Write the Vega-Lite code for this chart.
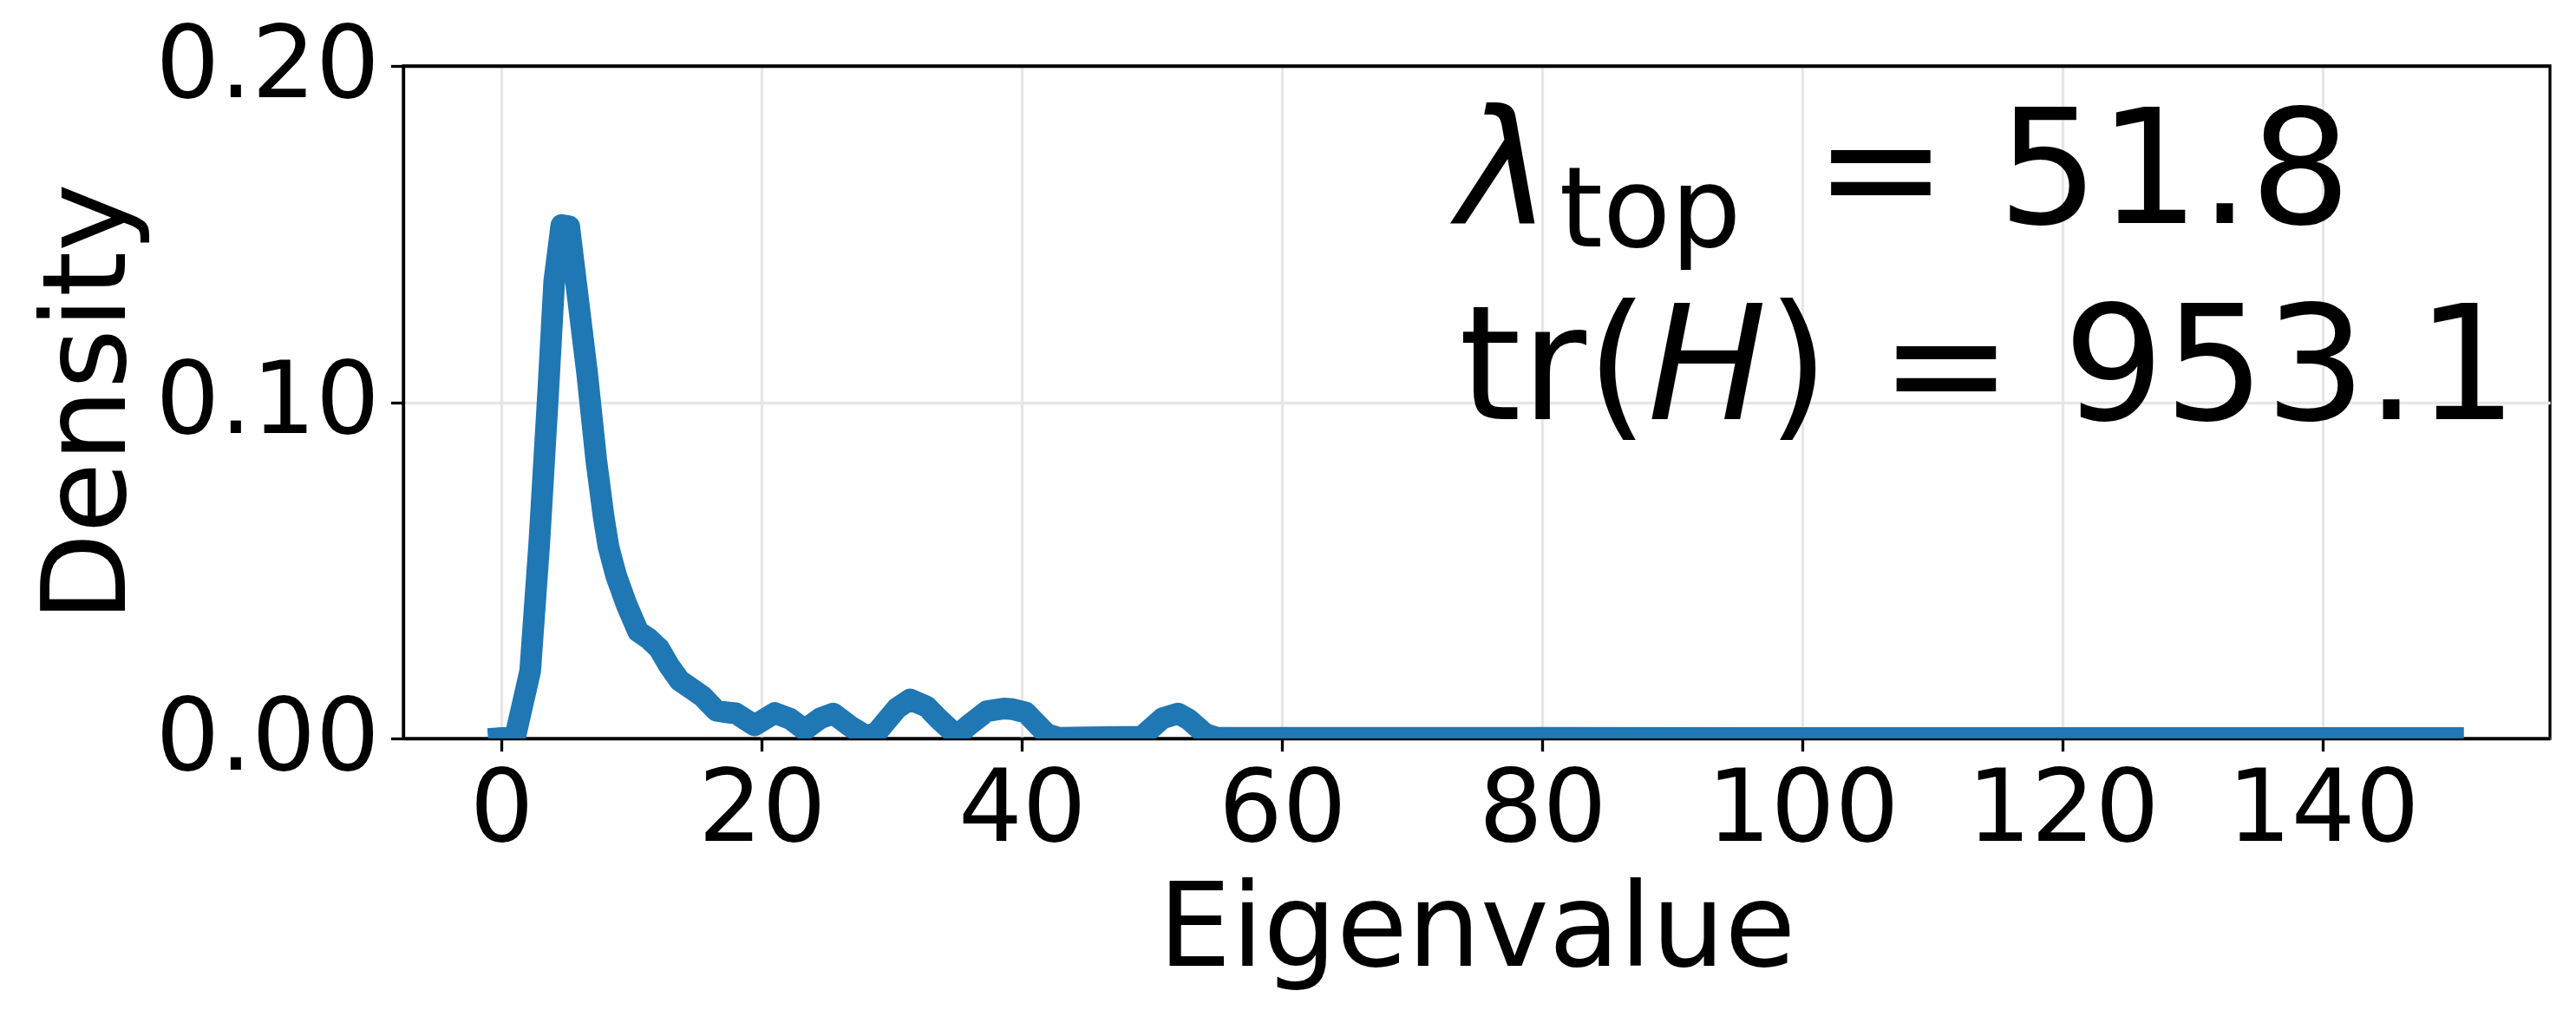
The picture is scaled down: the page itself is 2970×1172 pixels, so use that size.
{
  "$schema": "https://vega.github.io/schema/vega-lite/v6.json",
  "width": 2475,
  "height": 775,
  "autosize": {"type": "none"},
  "padding": {"left": 465, "top": 76, "right": 30, "bottom": 321},
  "background": "white",
  "config": {
    "font": "DejaVu Sans",
    "view": {"stroke": "black", "strokeWidth": 3.3},
    "axis": {
      "labelFont": "DejaVu Sans",
      "titleFont": "DejaVu Sans",
      "labelColor": "black",
      "titleColor": "black",
      "titleFontWeight": "normal",
      "labelFontSize": 116,
      "titleFontSize": 133,
      "labelLimit": 2000,
      "titleLimit": 3000,
      "tickColor": "black",
      "tickWidth": 3.3,
      "tickSize": 14.6,
      "domainColor": "black",
      "domainWidth": 3.3,
      "grid": true,
      "gridWidth": 3.3,
      "labelFlush": false,
      "labelOverlap": false,
      "zindex": 1
    }
  },
  "datasets": {
    "curve": [
      {"x": -0.2, "y": 0.0001},
      {"x": 1.05, "y": 0.0005},
      {"x": 2.2, "y": 0.020},
      {"x": 2.9, "y": 0.058},
      {"x": 3.6, "y": 0.104},
      {"x": 4.05, "y": 0.136},
      {"x": 4.6, "y": 0.1527},
      {"x": 5.2, "y": 0.1523},
      {"x": 6.58, "y": 0.1086},
      {"x": 7.28, "y": 0.0828},
      {"x": 7.86, "y": 0.0656},
      {"x": 8.22, "y": 0.057},
      {"x": 8.81, "y": 0.0484},
      {"x": 9.61, "y": 0.0398},
      {"x": 10.5, "y": 0.0318},
      {"x": 11.3, "y": 0.0297},
      {"x": 12.1, "y": 0.0268},
      {"x": 12.9, "y": 0.0215},
      {"x": 13.7, "y": 0.0172},
      {"x": 14.6, "y": 0.0148},
      {"x": 15.45, "y": 0.0125},
      {"x": 16.5, "y": 0.0083},
      {"x": 17.2, "y": 0.0078},
      {"x": 18.0, "y": 0.0075},
      {"x": 19.45, "y": 0.0039},
      {"x": 21.0, "y": 0.0076},
      {"x": 22.2, "y": 0.0058},
      {"x": 23.3, "y": 0.0026},
      {"x": 24.5, "y": 0.0060},
      {"x": 25.5, "y": 0.0074},
      {"x": 26.8, "y": 0.0036},
      {"x": 28.0, "y": 0.0008},
      {"x": 28.8, "y": 0.0016},
      {"x": 30.4, "y": 0.0090},
      {"x": 31.4, "y": 0.0116},
      {"x": 32.7, "y": 0.0094},
      {"x": 33.6, "y": 0.0058},
      {"x": 35.0, "y": 0.0008},
      {"x": 35.9, "y": 0.0039},
      {"x": 37.3, "y": 0.0081},
      {"x": 38.6, "y": 0.0089},
      {"x": 39.3, "y": 0.0087},
      {"x": 40.3, "y": 0.0077},
      {"x": 41.9, "y": 0.0013},
      {"x": 42.8, "y": 0.0002},
      {"x": 49.2, "y": 0.0005},
      {"x": 50.8, "y": 0.0060},
      {"x": 52.0, "y": 0.0074},
      {"x": 52.8, "y": 0.0057},
      {"x": 54.1, "y": 0.0013},
      {"x": 55.0, "y": 0.0002},
      {"x": 150.0, "y": 0.0001}
    ]
  },
  "encoding": {
    "x": {
      "type": "quantitative",
      "scale": {"domain": [-7.55, 157.45], "nice": false, "zero": false},
      "axis": {"title": "Eigenvalue", "values": [0, 20, 40, 60, 80, 100, 120, 140], "labelPadding": 11, "titlePadding": 16, "gridColor": "#e6e6e6"}
    },
    "y": {
      "type": "quantitative",
      "scale": {"domain": [0, 0.2], "nice": false, "zero": false},
      "axis": {
        "title": "Density",
        "values": [0, 0.1, 0.2],
        "format": ".2f",
        "labelPadding": 13,
        "titlePadding": 94,
        "gridColor": {"condition": {"test": "datum.value >= 0.199", "value": "black"}, "value": "#e6e6e6"}
      }
    }
  },
  "layer": [
    {
      "data": {"name": "curve"},
      "mark": {"type": "line", "color": "#1f77b4", "strokeWidth": 25, "strokeJoin": "round", "strokeCap": "square", "clip": true},
      "encoding": {"x": {"field": "x"}, "y": {"field": "y"}}
    },
    {
      "data": {"values": [{"label": "λ"}]},
      "mark": {"type": "text", "font": "DejaVu Sans", "fontSize": 183, "fontStyle": "italic", "align": "left", "baseline": "alphabetic", "color": "black"},
      "encoding": {"x": {"datum": 73.45}, "y": {"datum": 0.15337}, "text": {"field": "label"}}
    },
    {
      "data": {"values": [{"label": "top"}]},
      "mark": {"type": "text", "font": "DejaVu Sans", "fontSize": 128, "align": "left", "baseline": "alphabetic", "color": "black"},
      "encoding": {"x": {"datum": 81.3}, "y": {"datum": 0.1463}, "text": {"field": "label"}}
    },
    {
      "data": {"values": [{"label": "= 51.8"}]},
      "mark": {"type": "text", "font": "DejaVu Sans", "fontSize": 183, "align": "left", "baseline": "alphabetic", "color": "black"},
      "encoding": {"x": {"datum": 100.9}, "y": {"datum": 0.15337}, "text": {"field": "label"}}
    },
    {
      "data": {"values": [{"label": "tr("}]},
      "mark": {"type": "text", "font": "DejaVu Sans", "fontSize": 183, "align": "left", "baseline": "alphabetic", "color": "black"},
      "encoding": {"x": {"datum": 73.58}, "y": {"datum": 0.09489}, "text": {"field": "label"}}
    },
    {
      "data": {"values": [{"label": "H"}]},
      "mark": {"type": "text", "font": "DejaVu Sans", "fontSize": 183, "fontStyle": "italic", "align": "left", "baseline": "alphabetic", "color": "black"},
      "encoding": {"x": {"datum": 88.08}, "y": {"datum": 0.09489}, "text": {"field": "label"}}
    },
    {
      "data": {"values": [{"label": ") = 953.1"}]},
      "mark": {"type": "text", "font": "DejaVu Sans", "fontSize": 183, "align": "left", "baseline": "alphabetic", "color": "black"},
      "encoding": {"x": {"datum": 97.29}, "y": {"datum": 0.09489}, "text": {"field": "label"}}
    }
  ]
}
